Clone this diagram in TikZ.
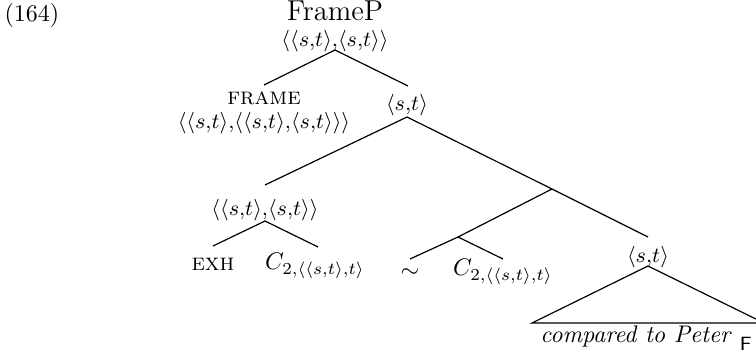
\documentclass[tikz,border=0pt]{standalone}
\begin{document}
\begin{tikzpicture}[x=0.41667pt,y=-0.41667pt, line width=0.5pt,
  lbl/.style={inner sep=0pt, font=\small},
  word/.style={inner sep=0pt}]
\newcommand{\tp}[2]{\langle #1{,}#2\rangle}
\useasboundingbox (0,0) rectangle (756,358);
\node[word,anchor=west] (num) at (4,16) {(164)};
\node[word,anchor=base,font=\large] (fp) at (335,21) {FrameP};
\node[lbl] (fpt) at (335,41) {$\tp{\tp{s}{t}}{\tp{s}{t}}$};
\coordinate (a1) at (335,50);
\coordinate (a1l) at (264,85);
\coordinate (a1r) at (408,86);
\node[word,anchor=base] (fr) at (264,105) {\textsc{frame}};
\node[lbl] (frt) at (264,123) {$\tp{\tp{s}{t}}{\tp{\tp{s}{t}}{\tp{s}{t}}}$};
\node[lbl] (st1) at (407,105) {$\tp{s}{t}$};
\coordinate (a2) at (407,117);
\coordinate (a2l) at (265,185);
\coordinate (x) at (552,189);
\coordinate (a2r) at (648,237);
\node[lbl] (et) at (265,210) {$\tp{\tp{s}{t}}{\tp{s}{t}}$};
\coordinate (a3) at (265,221);
\coordinate (a3l) at (213,246);
\coordinate (a3r) at (318,247);
\node[word,anchor=base] (exh) at (213,271) {\textsc{exh}};
\node[word,anchor=base] (c1) at (315,270) {$C_{2,\tp{\tp{s}{t}}{t}}$};
\coordinate (y) at (458,237);
\coordinate (yl) at (410,259);
\coordinate (yr) at (503,259);
\node[word] (sim) at (410,273) {$\sim$};
\node[word,anchor=base] (c2) at (503,276) {$C_{2,\tp{\tp{s}{t}}{t}}$};
\node[lbl] (st2) at (648,257) {$\tp{s}{t}$};
\coordinate (t) at (648,266);
\coordinate (tl) at (532,323);
\coordinate (tr) at (764,323);
\node[word,anchor=base] (cp) at (646,343) {\textit{compared to Peter}\ \raisebox{-3pt}{\footnotesize\sffamily F}};
\draw (a1l) -- (a1) -- (a1r);
\draw (a2l) -- (a2) -- (x) -- (a2r);
\draw (a3l) -- (a3) -- (a3r);
\draw (x) -- (y);
\draw (yl) -- (y) -- (yr);
\draw (t) -- (tl) -- (tr) -- cycle;
\end{tikzpicture}
\end{document}
